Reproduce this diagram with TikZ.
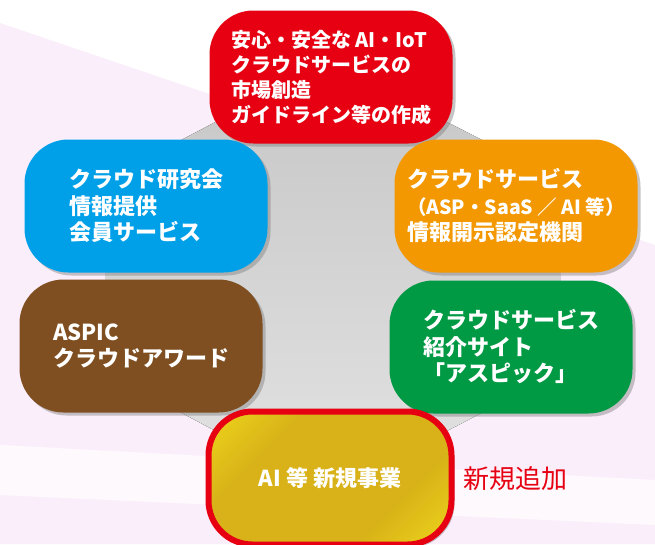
\documentclass[tikz,border=0pt]{standalone}
\usepackage{fontspec}
\setmainfont{Noto Sans CJK JP}
\usetikzlibrary{shadows}
\definecolor{aspicred}{RGB}{230,0,18}
\definecolor{aspicblue}{RGB}{0,160,233}
\definecolor{aspicorange}{RGB}{243,152,0}
\definecolor{aspicbrown}{RGB}{127,79,33}
\definecolor{aspicgreen}{RGB}{0,153,68}
\definecolor{goldlight}{RGB}{255,240,30}
\definecolor{golddark}{RGB}{216,178,24}
\definecolor{bgpink}{RGB}{251,238,251}
\pgfdeclarehorizontalshading{goldshade}{100bp}{color(0bp)=(goldlight); color(33bp)=(golddark); color(67bp)=(golddark); color(100bp)=(goldlight)}
\begin{document}
\begin{tikzpicture}[
          x=1pt, y=-1pt,
          panel/.style={rounded corners=44pt, minimum width=243pt, minimum height=133pt,
            align=left, text=white, inner sep=0pt,
            font=\fontsize{22}{26.5}\selectfont\bfseries,
            drop shadow={opacity=0.45, shadow xshift=3pt, shadow yshift=-3pt}},
          newpanel/.style={panel, draw=aspicred, line width=6pt,
            shade, shading=goldshade, shading angle=-45},
          note/.style={text=aspicred, anchor=west, inner sep=0pt,
            font=\fontsize{26}{30}\selectfont}
        ]
        \useasboundingbox (0,0) rectangle (655,544);
        \clip (0,0) rectangle (655,544);
        \fill[white] (0,0) rectangle (655,544);
        \fill[bgpink] (0,23) -- (655,245) -- (655,544) -- (0,544) -- cycle;
        \fill[white, opacity=0.7] (0,445) -- (655,480) -- (655,525) -- (0,495) -- cycle;
        \fill[top color=gray!45, bottom color=gray!22]
          (330,62) -- (560,180) -- (560,372) -- (330,492) -- (105,372) -- (105,180) -- cycle;
        \node[panel, fill=aspicred, font=\fontsize{20}{25}\selectfont\bfseries] (market) at (331,77)
          {安心・安全な AI・IoT\\クラウドサービスの\\市場創造\\ガイドライン等の作成};
        \node[panel, fill=aspicblue] (study) at (146,206)
          {クラウド研究会\\情報提供\\会員サービス};
        \node[panel, fill=aspicorange] (disclose) at (516,206)
          {クラウドサービス\\{\fontsize{19.5}{26.5}\selectfont （ASP・SaaS ／ AI 等）}\\情報開示認定機関};
        \node[panel, fill=aspicbrown] (award) at (141,346)
          {ASPIC\\クラウドアワード};
        \node[panel, fill=aspicgreen] (portal) at (511,347)
          {クラウドサービス\\紹介サイト\\「アスピック」};
        \node[newpanel] (newbiz) at (330,478) {AI 等 新規事業};
        \node[note] (added) at (463,479) {新規追加};
        \end{tikzpicture}
\end{document}
